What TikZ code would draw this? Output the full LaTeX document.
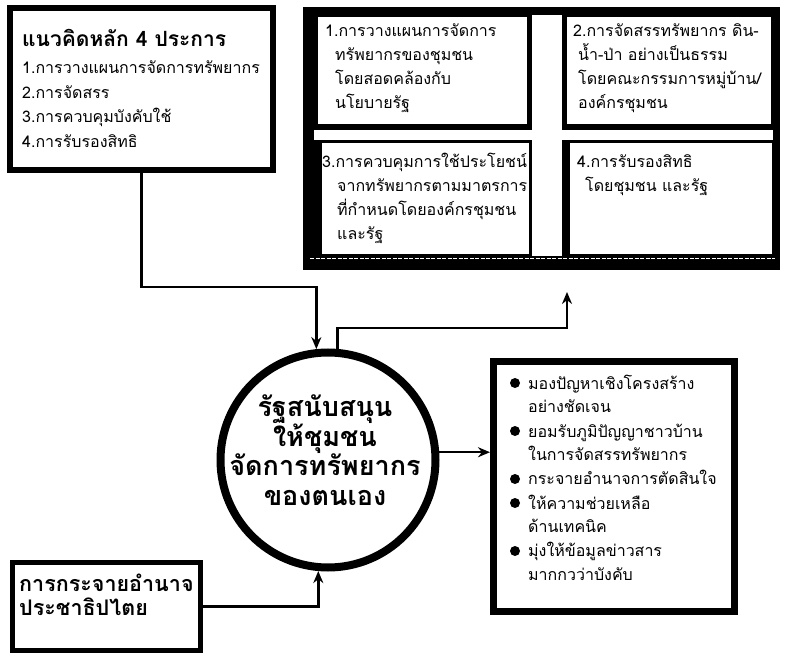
\documentclass[tikz,border=0pt]{standalone}
\usepackage{fontspec}
\newfontfamily\thai[Script=Thai]{Loma}
\usetikzlibrary{arrows.meta,calc}
\begin{document}
\begin{tikzpicture}[x=1pt,y=-1pt,
  boxframe/.style={draw=black,fill=white,rectangle,inner sep=0pt,line width=#1},
  whitebox/.style={fill=white,rectangle,inner sep=0pt},
  txt/.style={anchor=base west,align=left,inner sep=0pt,text width=#1},
  ctxt/.style={anchor=base,align=center,inner sep=0pt,text width=#1},
  arr/.style={line width=2.5pt,-{Stealth[length=12pt,width=10pt]}},
  body/.style={font=\thai\fontsize{16}{24}\selectfont},
  bodyr/.style={font=\thai\fontsize{16}{23.7}\selectfont},
]
\useasboundingbox (0,0) rectangle (788,655);
\fill[white] (0,0) rectangle (788,655);

% top-left box
\node[boxframe=6pt,minimum width=263pt,minimum height=162pt] (tl) at (141.5,89) {};
\node[txt=260pt,font=\thai\bfseries\fontsize{21}{25}\selectfont] (tltitle) at (22,47) {แนวคิดหลัก 4 ประการ};
\node[txt=260pt,font=\thai\fontsize{16}{24.5}\selectfont] (tlbody) at (22,74) {1.การวางแผนการจัดการทรัพยากร\\2.การจัดสรร\\3.การควบคุมบังคับใช้\\4.การรับรองสิทธิ};

% top-right block
\node[fill=black,rectangle,inner sep=0pt,minimum width=477pt,minimum height=263pt] (bg) at (541.5,138.5) {};
\fill[white] (314,130) rectangle (773,140);
\fill[white] (532,15) rectangle (562,256);
\draw[white,line width=1.2pt,dash pattern=on 4pt off 1.5pt] (310,258.5) -- (775,258.5);
\node[whitebox,minimum width=209pt,minimum height=107pt] (b1) at (422.5,70.5) {};
\node[whitebox,minimum width=204pt,minimum height=107pt] (b2) at (669,70.5) {};
\node[whitebox,minimum width=207pt,minimum height=111pt] (b3) at (425.5,198.5) {};
\node[whitebox,minimum width=202pt,minimum height=111pt] (b4) at (671,198.5) {};
\node[txt=230pt,bodyr] (t1) at (325,37) {1.การวางแผนการจัดการ\\\hspace*{10pt}ทรัพยากรของชุมชน\\\hspace*{10pt}โดยสอดคล้องกับ\\\hspace*{10pt}นโยบายรัฐ};
\node[txt=230pt,bodyr] (t2) at (573,37) {2.การจัดสรรทรัพยากร ดิน-\\\hspace*{5pt}น้ำ-ป่า อย่างเป็นธรรม\\\hspace*{5pt}โดยคณะกรรมการหมู่บ้าน/\\\hspace*{5pt}องค์กรชุมชน};
\node[txt=230pt,bodyr] (t3) at (322,168) {3.การควบคุมการใช้ประโยชน์\\\hspace*{15pt}จากทรัพยากรตามมาตรการ\\\hspace*{15pt}ที่กำหนดโดยองค์กรชุมชน\\\hspace*{15pt}และรัฐ};
\node[txt=230pt,bodyr] (t4) at (577,168) {4.การรับรองสิทธิ\\\hspace*{8pt}โดยชุมชน และรัฐ};

% central circle
\node[draw=black,fill=white,circle,line width=8pt,minimum size=215pt,inner sep=0pt] (circ) at (328,460) {};
\node[ctxt=230pt,font=\thai\bfseries\fontsize{27}{30}\selectfont] (ctext) at (325,416) {รัฐสนับสนุน\\ให้ชุมชน\\จัดการทรัพยากร\\ของตนเอง};

% right box
\node[boxframe=7pt,minimum width=241pt,minimum height=250pt] (rb) at (614,486.5) {};
\node[txt=210pt,font=\thai\fontsize{16}{24}\selectfont] (rbtext) at (528,389) {มองปัญหาเชิงโครงสร้าง\\อย่างชัดเจน\\ยอมรับภูมิปัญญาชาวบ้าน\\ในการจัดสรรทรัพยากร\\กระจายอำนาจการตัดสินใจ\\ให้ความช่วยเหลือ\\ด้านเทคนิค\\มุ่งให้ข้อมูลข่าวสาร\\มากกวว่าบังคับ};
\foreach \yy in {383,431,479,503,551} \fill (515,\yy) circle[radius=5pt];

% bottom-left box
\node[boxframe=5pt,minimum width=188pt,minimum height=88pt] (bl) at (106.5,606.5) {};
\node[txt=200pt,font=\thai\bfseries\fontsize{21.5}{24.5}\selectfont] (bltext) at (19,591) {การกระจายอำนาจ\\ประชาธิปไตย};

% connectors
\coordinate (upend) at (567,292);
\draw[arr] (tl.south) -- ++(0,114) -| (circ.96.7);
\draw[arr] (circ.85.4) -- ++(0,-21) -| (upend);
\draw[arr] (circ.4.1) -- (rb.west |- circ.4.1);
\draw[arr] (bl.east) -| (circ.265.9);
\end{tikzpicture}
\end{document}
